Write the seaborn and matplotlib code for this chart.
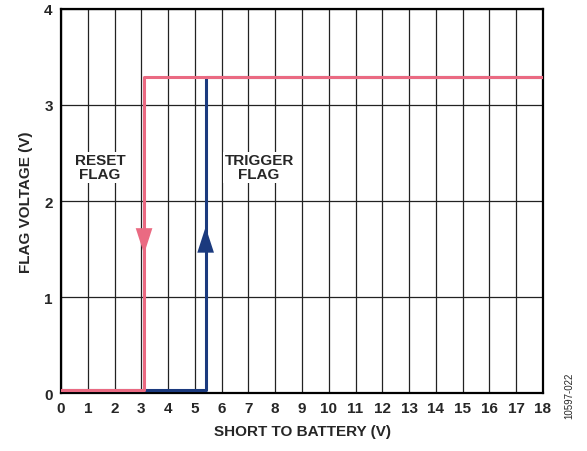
import numpy as np
import pandas as pd
import seaborn as sns
import matplotlib.pyplot as plt

# step thresholds
reset_x = [0, 3.1, 3.1, 18]
reset_v = [0.03, 0.03, 3.29, 3.29]
trigger_x = [0, 5.4, 5.4, 18]
trigger_v = [0.03, 0.03, 3.29, 3.29]

x_ticks = list(range(0, 19))
y_ticks = [0, 1, 2, 3, 4]

pink = '#EA6A82'
navy = '#1B3A7E'

sns.set_style('white')
plt.rcParams['font.family'] = ['Liberation Sans', 'DejaVu Sans']
plt.rcParams['font.weight'] = 'bold'

fig = plt.figure(figsize=(5.87, 4.52), dpi=100)
ax = fig.add_axes([0.104, 0.128, 0.821, 0.85])

df_t = pd.DataFrame({'x': trigger_x, 'v': trigger_v})
df_r = pd.DataFrame({'x': reset_x, 'v': reset_v})
sns.lineplot(data=df_t, x='x', y='v', sort=False, estimator=None, color=navy,
             lw=2.2, ax=ax, zorder=3)
sns.lineplot(data=df_r, x='x', y='v', sort=False, estimator=None, color=pink,
             lw=2.2, ax=ax, zorder=4)

# arrow heads
head = '-|>,head_length=1.85,head_width=0.6'
ax.annotate('', xy=(reset_x[1], 1.45), xytext=(reset_x[1], 1.72),
            arrowprops=dict(arrowstyle=head, color=pink, lw=0,
                            shrinkA=0, shrinkB=0), zorder=5)
ax.annotate('', xy=(trigger_x[1], 1.73), xytext=(trigger_x[1], 1.44),
            arrowprops=dict(arrowstyle=head, color=navy, lw=0,
                            shrinkA=0, shrinkB=0), zorder=5)

ax.text(1.45, 2.35, 'RESET\nFLAG', ha='center', va='center', fontsize=11,
        fontweight='bold', linespacing=1.0,
        bbox=dict(facecolor='white', edgecolor='none', pad=1), zorder=2.5)
ax.text(7.4, 2.35, 'TRIGGER\nFLAG', ha='center', va='center', fontsize=11,
        fontweight='bold', linespacing=1.0,
        bbox=dict(facecolor='white', edgecolor='none', pad=1), zorder=2.5)

ax.set_xlim(0, 18)
ax.set_ylim(0, 4)
ax.set_xticks(x_ticks)
ax.set_yticks(y_ticks)
ax.grid(True, color='#222222', lw=0.9)
ax.set_axisbelow(True)
for s in ax.spines.values():
    s.set_color('black')
    s.set_linewidth(1.6)
ax.tick_params(length=0, labelsize=11, pad=6)
for lab in ax.get_xticklabels() + ax.get_yticklabels():
    lab.set_fontweight('bold')
ax.set_xlabel('SHORT TO BATTERY (V)', fontsize=11, fontweight='bold', labelpad=6)
ax.set_ylabel('FLAG VOLTAGE (V)', fontsize=11, fontweight='bold', labelpad=8)

fig.text(0.97, 0.125, '10597-022', rotation=90, fontsize=7, fontweight='normal',
         ha='center', va='center')

fig.savefig('out.png', dpi=100)
